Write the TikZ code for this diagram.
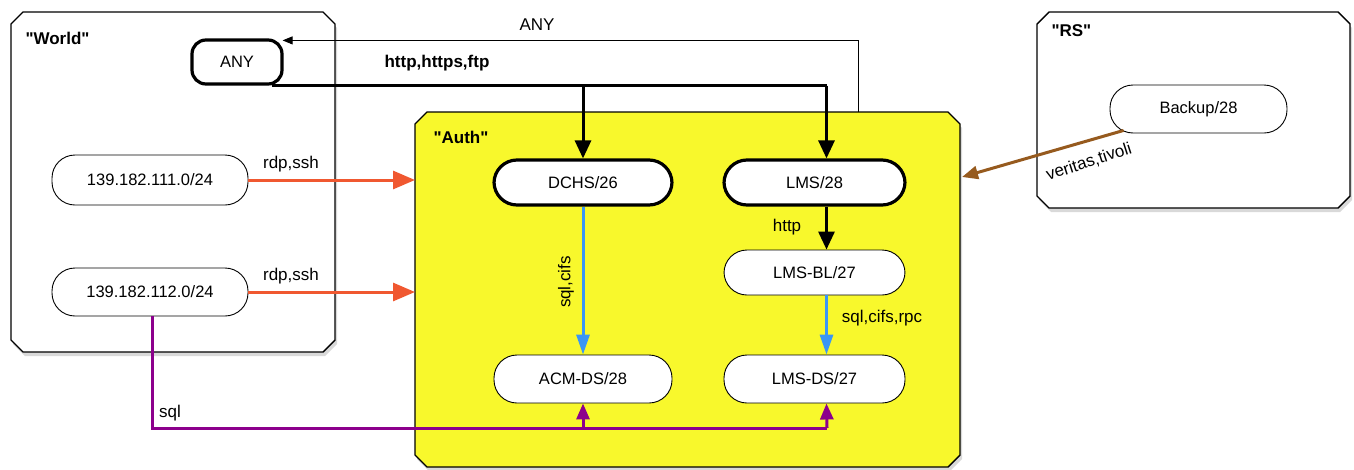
\documentclass[tikz,border=0pt]{standalone}
\usepackage{fontspec}
\setmainfont{Liberation Sans}
% a family without TeX ligature mapping keeps straight double quotes
\newfontfamily\diafont{Liberation Sans}
\usetikzlibrary{arrows.meta,shadows,calc}

\definecolor{zoneyellow}{RGB}{248,248,44}
\definecolor{rdporange}{RGB}{240,88,48}
\definecolor{sqlblue}{RGB}{58,150,245}
\definecolor{sqlpurple}{RGB}{140,0,140}
\definecolor{bkbrown}{RGB}{150,90,30}

\tikzset{
  zone/.style={draw=black, line width=1.4pt, fill=white,
    drop shadow={shadow xshift=2pt, shadow yshift=-4pt, opacity=0.3}},
  zonetitle/.style={font=\diafont\fontsize{17}{20}\selectfont\bfseries, anchor=west},
  host/.style={draw=black, line width=0.9pt, fill=white, rounded corners=23pt,
    minimum height=47pt, inner sep=0pt},
  mainhost/.style={host, line width=3.2pt},
  lbl/.style={font=\diafont\fontsize{17}{20}\selectfont},
  web/.style={draw=black, line width=3pt, -{Triangle[length=18pt,width=16pt]}},
  webline/.style={draw=black, line width=3pt},
  anyback/.style={draw=black, line width=0.9pt, -{Triangle[length=10pt,width=8pt]}},
  rdp/.style={draw=rdporange, line width=3pt, -{Triangle[length=22pt,width=18pt]}},
  sqlb/.style={draw=sqlblue, line width=3pt, -{Triangle[length=20pt,width=13pt]}},
  sqlp/.style={draw=sqlpurple, line width=3pt, -{Triangle[length=16pt,width=13pt]}},
  sqlpline/.style={draw=sqlpurple, line width=3pt},
  backup/.style={draw=bkbrown, line width=3pt, -{Triangle[length=16pt,width=13pt]}},
}

\begin{document}
\begin{tikzpicture}[x=1pt, y=-1pt, font=\diafont\fontsize{16.5}{20}\selectfont]
\useasboundingbox (0,0) rectangle (1354,469);

% security zones
\path[zone] (23,12) -- (323,12) -- (335,24) -- (335,340) -- (323,352) -- (23,352) -- (11,340) -- (11,24) -- cycle;
\path[zone, fill=zoneyellow] (427,112) -- (948,112) -- (960,124) -- (960,455) -- (948,467) -- (427,467) -- (415,455) -- (415,124) -- cycle;
\path[zone] (1049,12) -- (1338,12) -- (1350,24) -- (1350,196) -- (1338,208) -- (1049,208) -- (1037,196) -- (1037,24) -- cycle;

\node[zonetitle] (worldt) at (22,38) {"World"};
\node[zonetitle] (autht) at (430,137) {"Auth"};
\node[zonetitle] (rst) at (1048,31) {"RS"};

% hosts and networks
\node[mainhost, rounded corners=14pt, minimum width=90pt, minimum height=44pt] (any) at (237,62) {ANY};
\node[host, minimum width=196pt, minimum height=50pt] (n111) at (150,180) {139.182.111.0/24};
\node[host, minimum width=196pt, minimum height=48pt] (n112) at (150,292) {139.182.112.0/24};

\node[mainhost, minimum width=178pt, minimum height=45pt] (dchs) at (583,182.5) {DCHS/26};
\node[mainhost, minimum width=181pt, minimum height=45pt] (lms) at (814.5,182.5) {LMS/28};
\node[host, minimum width=181pt, minimum height=45pt] (lmsbl) at (814.5,272.5) {LMS-BL/27};
\node[host, minimum width=178pt, minimum height=48pt] (acm) at (583,379) {ACM-DS/28};
\node[host, minimum width=181pt, minimum height=48pt] (lmsds) at (814.5,379) {LMS-DS/27};

\node[host, minimum width=177pt, minimum height=48pt] (bk) at (1198.5,109) {Backup/28};

% entry points on the Auth zone border
\coordinate (authw1) at (415,180);
\coordinate (authw2) at (415,292);
\coordinate (authn) at (858,112);
\coordinate (authe) at (962,177);
\coordinate (sqlbus) at (827,428);

% web traffic from anywhere
\draw[webline] ([xshift=-12pt]any.south east) -- ([xshift=12pt]lms.north |- any.south east);
\draw[web] ([xshift=12pt]lms.north |- any.south east) -- ([xshift=12pt]lms.north);
\draw[web] (dchs.north |- any.south east) -- (dchs.north);
\node[lbl, font=\diafont\fontsize{17}{20}\selectfont\bfseries] (webl) at (437,63) {http,https,ftp};

% outbound traffic
\draw[anyback] (authn) |- ($(any.north east)+(-1,2)$);
\node[lbl] (anyl) at (537,25) {ANY};

% admin access
\draw[rdp] (n111.east) -- (authw1);
\draw[rdp] (n112.east) -- (authw2);
\node[lbl] (rdp1) at (291,164) {rdp,ssh};
\node[lbl] (rdp2) at (291,276) {rdp,ssh};

% internal flows
\draw[web] ([xshift=12pt]lms.south) -- ([xshift=12pt]lmsbl.north);
\node[lbl] (httpl) at (787,227) {http};
\draw[sqlb] (dchs.south) -- (acm.north);
\node[lbl, rotate=90] (sqlcifs) at (566,282) {sql,cifs};
\draw[sqlb] ([xshift=12pt]lmsbl.south) -- ([xshift=12pt]lmsds.north);
\node[lbl] (sqlrpc) at (882,318) {sql,cifs,rpc};

% database access
\draw[sqlpline] ([xshift=2pt]n112.south) |- (sqlbus);
\draw[sqlp] (sqlbus) -- ([xshift=12pt]lmsds.south);
\draw[sqlp] (acm.south |- sqlbus) -- (acm.south);
\node[lbl] (sqll) at (170,413) {sql};

% backups
\draw[backup] ($(bk.south west)+(14,-3)$) -- (authe);
\node[lbl, rotate=18] (bkl) at (1089,162) {veritas,tivoli};
\end{tikzpicture}
\end{document}
